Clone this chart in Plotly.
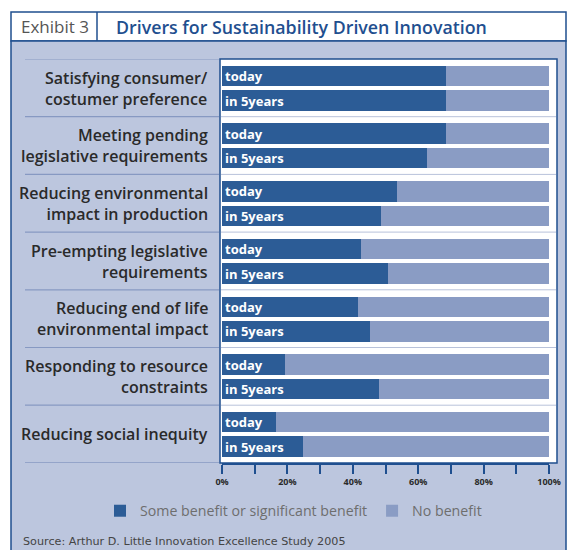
import plotly.graph_objects as go

# ---- data ----
categories = [
    "Satisfying consumer/<br>costumer preference",
    "Meeting pending<br>legislative requirements",
    "Reducing environmental<br>impact in production",
    "Pre-empting legislative<br>requirements",
    "Reducing end of life<br>environmental impact",
    "Responding to resource<br>constraints",
    "Reducing social inequity",
]
benefit_today = [68.5, 68.5, 53.6, 42.4, 41.7, 19.2, 16.4]
benefit_5years = [68.5, 62.8, 48.7, 50.9, 45.3, 48.0, 24.9]
no_benefit_today = [31.5, 31.5, 46.4, 57.6, 58.3, 80.8, 83.6]
no_benefit_5years = [31.5, 37.2, 51.3, 49.1, 54.7, 52.0, 75.1]
period_labels = ["today", "in 5years"]
tick_values = [0, 10, 20, 30, 40, 50, 60, 70, 80, 90, 100]
tick_labels = ["0%", "", "20%", "", "40%", "", "60%", "", "80%", "", "100%"]
series_names = ["Some benefit or significant benefit", "No benefit"]

# ---- styling / layout constants ----
W, H = 572, 550
L, R, T, B = 222, 23, 59, 87
PW = W - L - R
PH = H - T - B
GROUP = 57.7
OFF_TODAY, OFF_5Y = 17.0, 41.5
BAR_W = 20.5

DARK = "#2c5c96"
LIGHT = "#8a9cc4"
BG = "#bcc6de"
BORDER = "#1f4f8f"
SEP_COL = "#8799c2"
SEP_IN = "#b8c2da"
FONT = "Open Sans"


def px(x):
    return (x - L) / PW


def py(y):
    return (H - B - y) / PH


n = len(categories)
ypos, dark_vals, light_vals, texts = [], [], [], []
for i in range(n):
    ypos += [i * GROUP + OFF_TODAY, i * GROUP + OFF_5Y]
    dark_vals += [benefit_today[i], benefit_5years[i]]
    light_vals += [no_benefit_today[i], no_benefit_5years[i]]
    texts += period_labels

fig = go.Figure()
fig.add_trace(go.Bar(
    x=dark_vals, y=ypos, orientation="h", width=BAR_W,
    name=series_names[0], marker=dict(color=DARK, line=dict(width=0)),
    text=texts, textposition="inside", insidetextanchor="start",
    textfont=dict(color="white", size=13, family=FONT, weight=700),
    constraintext="none", hoverinfo="skip",
))
fig.add_trace(go.Bar(
    x=light_vals, y=ypos, orientation="h", width=BAR_W,
    name=series_names[1], marker=dict(color=LIGHT, line=dict(width=0)),
    hoverinfo="skip",
))

shapes = []
# title bar
shapes.append(dict(type="rect", xref="paper", yref="paper", layer="below",
                   x0=px(11), x1=px(566), y0=py(12), y1=py(41),
                   fillcolor="white", line=dict(color=BORDER, width=1.5)))
shapes.append(dict(type="line", xref="paper", yref="paper", layer="below",
                   x0=px(97), x1=px(97), y0=py(12), y1=py(41),
                   line=dict(color=BORDER, width=1.5)))
# body
shapes.append(dict(type="rect", xref="paper", yref="paper", layer="below",
                   x0=px(11), x1=px(566), y0=py(41), y1=py(560),
                   fillcolor=BG, line=dict(color=BORDER, width=1.5)))
# white plot box
shapes.append(dict(type="rect", xref="paper", yref="paper", layer="below",
                   x0=px(220), x1=px(557), y0=py(59), y1=py(463),
                   fillcolor="white", line=dict(color=BORDER, width=1.5)))
# separators
for i in range(n + 1):
    yv = i * GROUP
    shapes.append(dict(type="line", xref="paper", yref="y", layer="below",
                       x0=px(25), x1=px(219), y0=yv, y1=yv,
                       line=dict(color=SEP_COL, width=1.2)))
    if 0 < i < n:
        shapes.append(dict(type="line", xref="paper", yref="y", layer="below",
                           x0=px(221), x1=px(556), y0=yv, y1=yv,
                           line=dict(color=SEP_IN, width=1)))

annotations = []
for i, c in enumerate(categories):
    annotations.append(dict(
        text=c, xref="paper", yref="y", x=px(210), y=i * GROUP + 29,
        xanchor="right", yanchor="middle", align="right", showarrow=False,
        font=dict(family=FONT, size=16, weight=600, color="#2a2a2a"),
    ))
annotations.append(dict(text="Exhibit 3", xref="paper", yref="paper",
                        x=px(19), y=py(27), xanchor="left", yanchor="middle",
                        showarrow=False,
                        font=dict(family=FONT, size=17, color="#555555")))
annotations.append(dict(text="Drivers for Sustainability Driven Innovation",
                        xref="paper", yref="paper", x=px(114), y=py(27),
                        xanchor="left", yanchor="middle", showarrow=False,
                        font=dict(family=FONT, size=17.8, weight=600,
                                  color=BORDER)))
annotations.append(dict(text="Source: Arthur D. Little Innovation Excellence Study 2005",
                        xref="paper", yref="paper", x=px(21), y=py(541),
                        xanchor="left", yanchor="middle", showarrow=False,
                        font=dict(family="DejaVu Sans", size=11.2,
                                  color="#444444")))

fig.update_layout(
    width=W, height=H,
    margin=dict(l=L, r=R, t=T, b=B, pad=0),
    barmode="stack",
    paper_bgcolor="white", plot_bgcolor="rgba(0,0,0,0)",
    shapes=shapes, annotations=annotations,
    showlegend=True,
    legend=dict(orientation="h", x=px(100), xanchor="left", y=py(511),
                yanchor="middle", bgcolor="rgba(0,0,0,0)", traceorder="normal",
                font=dict(family=FONT, size=14.2, color="#6e6e6e")),
    xaxis=dict(range=[0, 100], tickvals=tick_values, ticktext=tick_labels,
               showgrid=False, zeroline=False, showline=True,
               linecolor=BORDER, linewidth=2, ticks="outside", ticklen=9,
               tickwidth=2, tickcolor=BORDER,
               tickfont=dict(family=FONT, weight=700, size=9,
                             color="#2a2a2a"), fixedrange=True),
    yaxis=dict(range=[PH, 0], visible=False, fixedrange=True),
)

fig.write_html("out.html", config={"displayModeBar": False},
               post_script="document.body.style.margin='0';")
